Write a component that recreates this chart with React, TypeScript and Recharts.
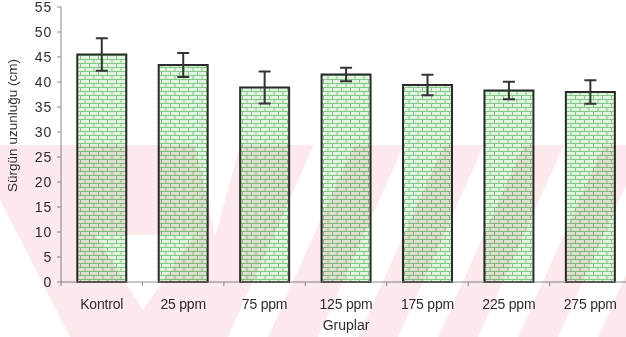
import React from "react";
import { Bar, BarChart, ErrorBar, XAxis, YAxis } from "recharts";

const categories = ["Kontrol", "25 ppm", "75 ppm", "125 ppm", "175 ppm", "225 ppm", "275 ppm"];
const shootLength = [45.5, 43.4, 38.9, 41.5, 39.4, 38.3, 38.0];
const shootError = [3.25, 2.4, 3.2, 1.35, 2.05, 1.75, 2.35];
const yTicks = [0, 5, 10, 15, 20, 25, 30, 35, 40, 45, 50, 55];

const data = categories.map((name, i) => ({ name, value: shootLength[i], err: shootError[i] }));

const font = "'Liberation Sans', Arial, sans-serif";
const textColor = "#2e2e2e";
const axisColor = "#8a8a8a";

// faint thesis watermark, blended over the whole picture
const stripeStarts = [228, 318, 398, 478, 558];

function CategoryTick(props: any) {
  const { x, y, payload } = props;
  const half = payload?.offset || 40.7;
  return (
    <g>
      <line x1={x - half} y1={y} x2={x - half} y2={y + 4} stroke={axisColor} strokeWidth={1} />
      <text x={x} y={y + 27} textAnchor="middle" fill={textColor} fontSize={14} fontFamily={font} letterSpacing={-0.2}>
        {payload.value}
      </text>
    </g>
  );
}

function Watermark() {
  return (
    <svg
      width={626}
      height={337}
      style={{ position: "absolute", left: 0, top: 0, mixBlendMode: "multiply", pointerEvents: "none" }}
    >
      <rect x={0} y={145} width={626} height={192} fill="#fce9ec" />
      <polygon points="0,200 0,337 70,337" fill="#fff" />
      <polygon points="95,235 195,235 143,310" fill="#fff" />
      <polygon points="195,145 240,145 215,237" fill="#fff" />
      {stripeStarts.map((b) => (
        <polygon key={b} points={`${b},337 ${b + 40},337 ${b + 126},145 ${b + 86},145`} fill="#fff" />
      ))}
    </svg>
  );
}

export default function App() {
  return (
    <div style={{ position: "absolute", left: 0, top: 0, width: 626, height: 337, overflow: "hidden", background: "#fff" }}>
      <BarChart
        width={640}
        height={337}
        data={data}
        margin={{ top: 7, right: 9, left: 0, bottom: 25 }}
        barCategoryGap="20%"
      >
        <defs>
          <pattern id="brick" width="9" height="8" patternUnits="userSpaceOnUse">
            <rect width="9" height="8" fill="#86c688" />
            <rect x="0" y="0" width="8" height="3" fill="#e0f4e0" />
            <rect x="-4.5" y="4" width="8" height="3" fill="#e0f4e0" />
            <rect x="4.5" y="4" width="8" height="3" fill="#e0f4e0" />
          </pattern>
        </defs>
        <XAxis
          dataKey="name"
          height={30}
          interval={0}
          axisLine={{ stroke: axisColor }}
          tickLine={false}
          tickSize={0}
          tickMargin={0}
          tick={(p: any) => <CategoryTick {...p} />}
          label={{
            content: ({ viewBox }: any) => (
              <text
                x={viewBox.x + viewBox.width / 2}
                y={viewBox.y + 48}
                textAnchor="middle"
                fill={textColor}
                fontSize={14}
                fontFamily={font}
              >
                Gruplar
              </text>
            ),
          }}
        />
        <YAxis
          width={61}
          domain={[0, 55]}
          ticks={yTicks}
          interval={0}
          axisLine={{ stroke: axisColor }}
          tickLine={{ stroke: axisColor }}
          tickSize={4}
          tickMargin={5}
          tick={{ fill: textColor, fontSize: 14, fontFamily: font, letterSpacing: 0.8 }}
          label={{
            content: ({ viewBox }: any) => {
              const cy = viewBox.y + viewBox.height / 2 - 19;
              return (
                <text
                  x={17}
                  y={cy}
                  transform={`rotate(-90 17 ${cy})`}
                  textAnchor="middle"
                  fill={textColor}
                  fontSize={13.5}
                  fontFamily={font}
                >
                  Sürgün uzunluğu (cm)
                </text>
              );
            },
          }}
        />
        <Bar dataKey="value" fill="url(#brick)" stroke="#2a2a2a" strokeWidth={2} isAnimationActive={false}>
          <ErrorBar dataKey="err" width={6} stroke="#333" strokeWidth={2} />
        </Bar>
      </BarChart>
      <Watermark />
    </div>
  );
}
